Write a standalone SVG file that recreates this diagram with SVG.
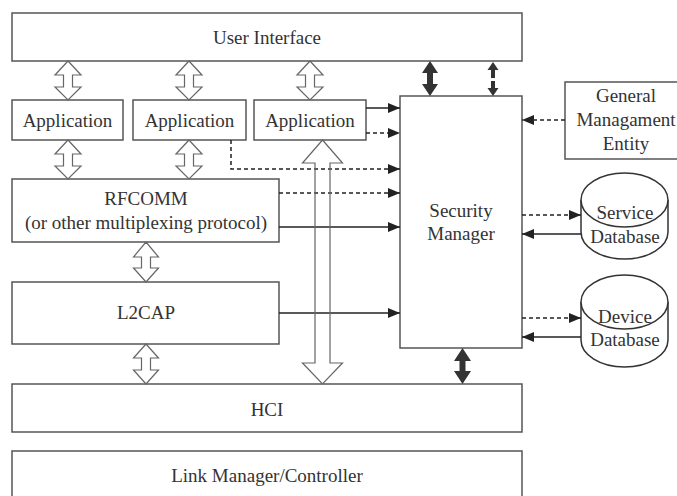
<svg xmlns="http://www.w3.org/2000/svg" width="677" height="496" viewBox="0 0 677 496">
<defs>
<style>
.box{fill:#fff;stroke:#555;stroke-width:1.5}
.cyl{fill:#fff;stroke:#333;stroke-width:1.5}
.t{font-family:"Liberation Serif","Times New Roman",serif;font-size:19px;fill:#333;text-anchor:middle}
.hol{fill:none;stroke:#666;stroke-width:1.2;stroke-linejoin:miter}
.ln{fill:none;stroke:#222;stroke-width:1.5}
.dash{stroke-dasharray:4 3}
.blk{fill:#333;stroke:none}
</style>
<marker id="ah" markerUnits="userSpaceOnUse" markerWidth="12" markerHeight="10" refX="12" refY="5" orient="auto">
<path d="M0,0 L12,5 L0,10 Z" fill="#222"/>
</marker>
</defs>
<rect width="677" height="496" fill="#fff"/>

<g id="user-interface"><rect class="box" x="12" y="13" width="510" height="48"/><text class="t" x="267" y="44">User Interface</text></g>
<g id="app1"><rect class="box" x="12" y="100" width="111" height="40"/><text class="t" x="67.5" y="127">Application</text></g>
<g id="app2"><rect class="box" x="133" y="100" width="113" height="40"/><text class="t" x="189.5" y="127">Application</text></g>
<g id="app3"><rect class="box" x="254" y="100" width="112" height="40"/><text class="t" x="310" y="127">Application</text></g>
<g id="rfcomm"><rect class="box" x="12" y="179" width="267" height="63"/><text class="t" x="146" y="205">RFCOMM</text><text class="t" x="146" y="229">(or other multiplexing protocol)</text></g>
<g id="l2cap"><rect class="box" x="12" y="282" width="267" height="62"/><text class="t" x="146" y="319">L2CAP</text></g>
<g id="hci"><rect class="box" x="12" y="384" width="510" height="48"/><text class="t" x="267" y="416">HCI</text></g>
<g id="link-manager"><rect class="box" x="12" y="451" width="510" height="60"/><text class="t" x="267" y="482">Link Manager/Controller</text></g>
<g id="security-manager"><rect class="box" x="400" y="96" width="122" height="252"/><text class="t" x="461" y="217">Security</text><text class="t" x="461" y="240">Manager</text></g>
<g id="gme"><rect class="box" x="565" y="82" width="135" height="77"/><text class="t" x="626" y="102">General</text><text class="t" x="626" y="126">Managament</text><text class="t" x="626" y="150">Entity</text></g>
<g id="service-db"><path class="cyl" d="M581,200 A43.5,27 0 0,1 668,200 L668,232 A43.5,27 0 0,1 581,232 Z"/><path class="cyl" fill="none" d="M581,200 A43.5,27 0 0,0 668,200"/><text class="t" x="625" y="219">Service</text><text class="t" x="625" y="243">Database</text></g>
<g id="device-db"><path class="cyl" d="M581,302 A43.5,27 0 0,1 668,302 L668,340 A43.5,27 0 0,1 581,340 Z"/><path class="cyl" fill="none" d="M581,302 A43.5,27 0 0,0 668,302"/><text class="t" x="625" y="323">Device</text><text class="t" x="625" y="346">Database</text></g>

<g id="connectors">
<path class="ln" marker-end="url(#ah)" d="M366,108 H400"/>
<path class="ln dash" marker-end="url(#ah)" d="M366,133 H400"/>
<path class="ln dash" marker-end="url(#ah)" d="M231,140 V169 H400"/>
<path class="ln dash" marker-end="url(#ah)" d="M279,193 H400"/>
<path class="ln" marker-end="url(#ah)" d="M279,227 H400"/>
<path class="ln" marker-end="url(#ah)" d="M279,313 H400"/>
<path class="ln dash" marker-end="url(#ah)" d="M565,120 H522"/>
<path class="ln dash" marker-end="url(#ah)" d="M522,215 H581"/>
<path class="ln" marker-end="url(#ah)" d="M581,234 H522"/>
<path class="ln dash" marker-end="url(#ah)" d="M522,318 H581"/>
<path class="ln" marker-end="url(#ah)" d="M581,337 H522"/>
<path class="hol" d="M68,61 L81,75 L72.5,75 L72.5,87 L81,87 L68,100 L55,87 L63.5,87 L63.5,75 L55,75 Z"/>
<path class="hol" d="M189,61 L202,75 L193.5,75 L193.5,87 L202,87 L189,100 L176,87 L184.5,87 L184.5,75 L176,75 Z"/>
<path class="hol" d="M310,61 L323,75 L314.5,75 L314.5,87 L323,87 L310,100 L297,87 L305.5,87 L305.5,75 L297,75 Z"/>
<path class="hol" d="M68,140 L81,154 L72.5,154 L72.5,166 L81,166 L68,179 L55,166 L63.5,166 L63.5,154 L55,154 Z"/>
<path class="hol" d="M189,140 L202,154 L193.5,154 L193.5,166 L202,166 L189,179 L176,166 L184.5,166 L184.5,154 L176,154 Z"/>
<path class="hol" d="M146,242 L158.5,257 L150.5,257 L150.5,268 L158.5,268 L146,282 L133.5,268 L141.5,268 L141.5,257 L133.5,257 Z"/>
<path class="hol" d="M146,344 L158.5,358 L150.5,358 L150.5,370 L158.5,370 L146,384 L133.5,370 L141.5,370 L141.5,358 L133.5,358 Z"/>
<path class="hol" d="M322.5,140 L342.5,163 L330,163 L330,363 L342.5,363 L322.5,384 L302.5,363 L315,363 L315,163 L302.5,163 Z"/>
<path class="blk" d="M430,61 L438,73 L433,73 L433,84 L438,84 L430,96 L422,84 L427,84 L427,73 L422,73 Z"/>
<path class="blk" d="M493,62 L498.5,70 L495,70 L495,78 L491,78 L491,70 L487.5,70 Z"/>
<path class="blk" d="M493,96 L498.5,88 L495,88 L495,81 L491,81 L491,88 L487.5,88 Z"/>
<path class="blk" d="M462.5,348 L471,361 L465.5,361 L465.5,371 L471,371 L462.5,384 L454,371 L459.5,371 L459.5,361 L454,361 Z"/>
</g>
</svg>
